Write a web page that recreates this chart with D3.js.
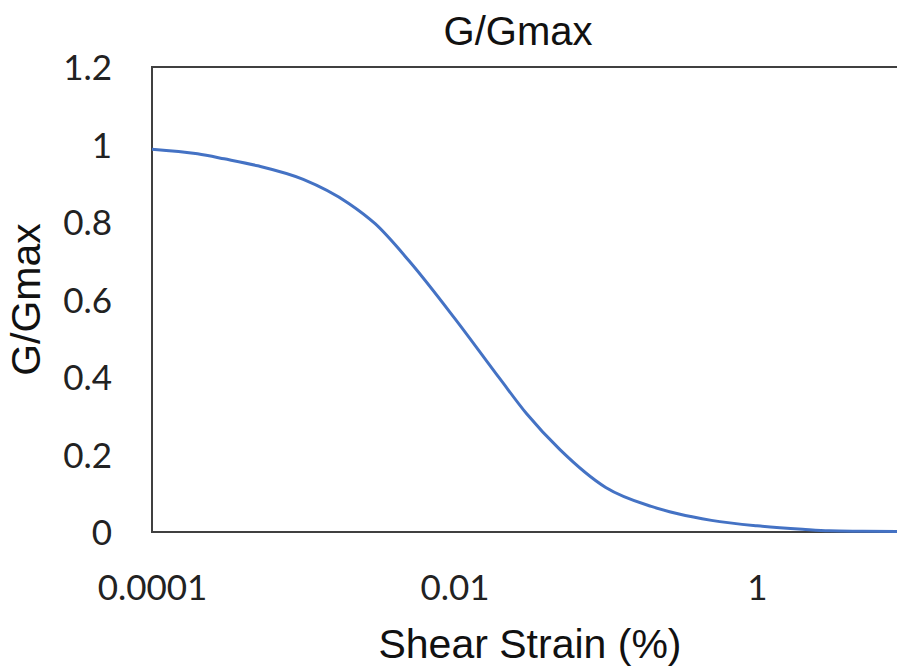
<!doctype html>
<html lang="en">
<head>
  <meta charset="utf-8">
  <title>G/Gmax</title>
  <style>
    body { margin: 0; background: #fff; }
  </style>
</head>
<body>
  <script src="https://cdn.jsdelivr.net/npm/d3@7"></script>
  <script>
    // Shear strain (%) and modulus reduction
    const strain = [0.0001, 0.0002, 0.0003, 0.0005, 0.001, 0.002, 0.003, 0.005,
                    0.01, 0.02, 0.03, 0.05, 0.1, 0.2, 0.3, 0.5, 1, 2, 3, 5, 10];
    const gRatio = [0.988, 0.976, 0.963, 0.945, 0.91, 0.848, 0.795, 0.70,
                    0.552, 0.395, 0.305, 0.212, 0.115, 0.066, 0.047, 0.030, 0.016, 0.007, 0.003, 0.002, 0.001];
    const xTicks = [0.0001, 0.01, 1];
    const yTicks = [0, 0.2, 0.4, 0.6, 0.8, 1, 1.2];

    const w = 897;
    const h = 668;
    const plotLeft = 152;
    const plotTop = 67;
    const plotBottom = 532;

    // The plot runs past the right edge of the picture, like the source
    const xScale = d3.scaleLog()
                     .domain([0.0001, 100])
                     .range([plotLeft, 1059.5]);

    const yScale = d3.scaleLinear()
                     .domain([0, 1.2])
                     .range([plotBottom, plotTop]);

    const svg = d3.select('body')
                  .append('svg')
                  .attr('width', w)
                  .attr('height', h)
                  .style('display', 'block');

    // Plot area border
    svg.append('rect')
       .attr('x', xScale(0.0001))
       .attr('y', yScale(1.2))
       .attr('width', xScale(100) - xScale(0.0001))
       .attr('height', yScale(0) - yScale(1.2))
       .attr('fill', 'none')
       .attr('stroke', '#404040')
       .attr('stroke-width', 2);

    // Curve
    const line = d3.line()
                   .x((d, i) => xScale(strain[i]))
                   .y((d) => yScale(d))
                   .curve(d3.curveMonotoneX);

    svg.append('path')
       .datum(gRatio)
       .attr('d', line)
       .attr('fill', 'none')
       .attr('stroke', '#4472C4')
       .attr('stroke-width', 3);

    // Axes, ticks hidden, labels only
    const xAxis = d3.axisBottom(xScale)
                    .tickValues(xTicks)
                    .tickSize(0)
                    .tickFormat((d) => String(d));

    const yAxis = d3.axisLeft(yScale)
                    .tickValues(yTicks)
                    .tickSize(0)
                    .tickFormat((d) => String(+d.toFixed(1)));

    svg.append('g')
       .attr('transform', `translate(0, ${plotBottom})`)
       .call(xAxis)
       .call((g) => g.select('.domain').remove())
       .selectAll('text')
       .attr('y', 68)
       .attr('dy', 0)
       .style('font-family', 'Lato, sans-serif')
       .style('font-size', '35px')
       .style('fill', '#222');

    svg.append('g')
       .attr('transform', `translate(${plotLeft}, 0)`)
       .call(yAxis)
       .call((g) => g.select('.domain').remove())
       .selectAll('text')
       .attr('x', -40)
       .attr('dy', '0.36em')
       .style('font-family', 'Lato, sans-serif')
       .style('font-size', '35px')
       .style('fill', '#222');

    // Titles
    svg.append('text')
       .attr('x', 518)
       .attr('y', 45)
       .attr('text-anchor', 'middle')
       .style('font-family', '"Liberation Sans", Arial, sans-serif')
       .style('font-size', '40px')
       .style('fill', '#111')
       .text('G/Gmax');

    svg.append('text')
       .attr('x', 530)
       .attr('y', 658)
       .attr('text-anchor', 'middle')
       .style('font-family', '"Liberation Sans", Arial, sans-serif')
       .style('font-size', '41px')
       .style('fill', '#111')
       .text('Shear Strain (%)');

    svg.append('text')
       .attr('transform', `translate(40, ${(plotTop + plotBottom) / 2}) rotate(-90)`)
       .attr('text-anchor', 'middle')
       .style('font-family', '"Liberation Sans", Arial, sans-serif')
       .style('font-size', '41px')
       .style('fill', '#111')
       .text('G/Gmax');
  </script>
</body>
</html>
